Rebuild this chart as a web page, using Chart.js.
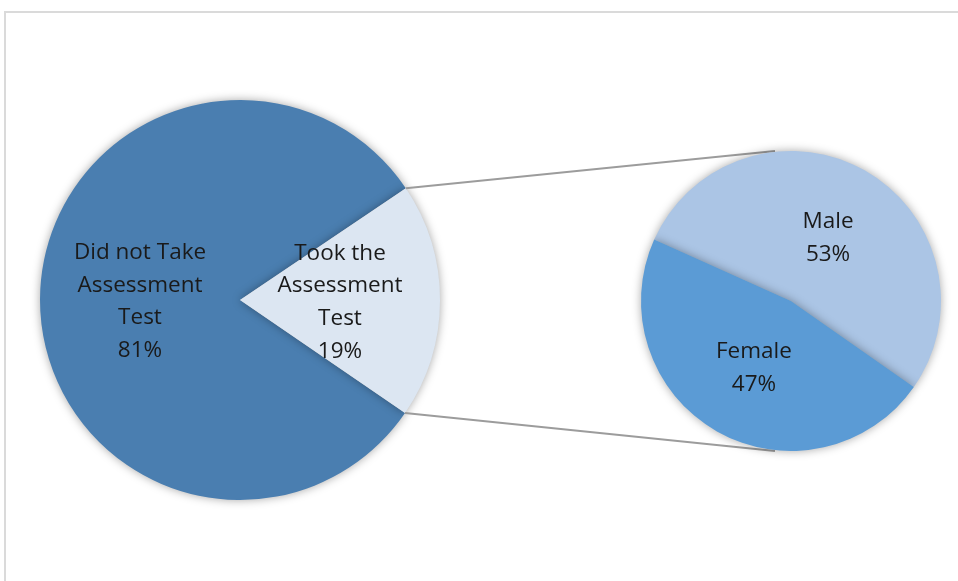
<!DOCTYPE html>
<html>
<head>
<meta charset="utf-8">
<script src="https://cdn.jsdelivr.net/npm/chart.js@4.4.1/dist/chart.umd.min.js"></script>
<style>
  html, body { margin: 0; padding: 0; background: #fff; }
  #wrap { position: relative; width: 958px; height: 581px; overflow: hidden; }
  #frame { position: absolute; left: 4px; top: 11px; width: 980px; height: 600px;
           border: 2px solid #dadada; box-sizing: border-box; }
  canvas { position: absolute; left: 0; top: 0; }
</style>
</head>
<body>
<div id="wrap">
  <div id="frame"></div>
  <canvas id="mainPie" width="958" height="581"></canvas>
  <canvas id="subPie" width="958" height="581"></canvas>
</div>
<script>
// data
const mainLabels = [['Did not Take', 'Assessment', 'Test'], ['Took the', 'Assessment', 'Test']];
const mainValues = [81, 19];
const subLabels = ['Male', 'Female'];
const subValues = [53, 47];

const labelFont = '22.5px "Open Sans", sans-serif';

// shadow behind the pies
const shadowPlugin = {
    id: 'shadow',
    beforeDatasetsDraw(chart) {
        chart.ctx.save();
        chart.ctx.shadowColor = 'rgba(0,0,0,0.35)';
        chart.ctx.shadowBlur = 10;
        chart.ctx.shadowOffsetX = 0;
        chart.ctx.shadowOffsetY = 0;
    },
    afterDatasetsDraw(chart) {
        chart.ctx.restore();
    }
};

// text labels in the middle of each slice
const sliceLabelPlugin = {
    id: 'sliceLabels',
    afterDatasetsDraw(chart) {
        const ctx = chart.ctx;
        const meta = chart.getDatasetMeta(0);
        const labels = chart.data.labels;
        const values = chart.data.datasets[0].data;
        ctx.save();
        ctx.font = labelFont;
        ctx.fillStyle = '#1a1a1a';
        ctx.textAlign = 'center';
        ctx.textBaseline = 'middle';
        meta.data.forEach((arc, i) => {
            const p = arc.getCenterPoint();
            const lines = [].concat(labels[i], values[i] + '%');
            const lh = 32.7;
            const y0 = p.y + 2 - (lines.length - 1) * lh / 2;
            lines.forEach((t, k) => ctx.fillText(t, p.x, y0 + k * lh));
        });
        ctx.restore();
    }
};

//main pie
const mainChart = new Chart(document.getElementById('mainPie'), {
    type: 'pie',
    data: {
        labels: mainLabels,
        datasets: [{
            data: mainValues,
            backgroundColor: ['#4a7eb0', '#dce6f2'],
            borderWidth: 0
        }]
    },
    options: {
        responsive: false,
        animation: false,
        rotation: 124.4,
        layout: { padding: { left: 40, right: 518, top: 100, bottom: 81 } },
        plugins: { legend: { display: false }, tooltip: { enabled: false } }
    },
    plugins: [shadowPlugin, sliceLabelPlugin]
});

// lines from the small slice to the second pie
const connectorPlugin = {
    id: 'connector',
    beforeDatasetsDraw(chart) {
        const arc = mainChart.getDatasetMeta(0).data[1];
        const sub = chart.getDatasetMeta(0).data[0];
        const r = arc.outerRadius;
        const a1 = arc.startAngle, a2 = arc.endAngle;
        const ctx = chart.ctx;
        const tx = sub.x - 16;
        ctx.save();
        ctx.strokeStyle = '#9c9c9c';
        ctx.lineWidth = 2;
        ctx.beginPath();
        ctx.moveTo(arc.x + r * Math.cos(a1), arc.y + r * Math.sin(a1));
        ctx.lineTo(tx, sub.y - sub.outerRadius);
        ctx.moveTo(arc.x + r * Math.cos(a2), arc.y + r * Math.sin(a2));
        ctx.lineTo(tx, sub.y + sub.outerRadius);
        ctx.stroke();
        ctx.restore();
    }
};

//second pie
const subChart = new Chart(document.getElementById('subPie'), {
    type: 'pie',
    data: {
        labels: subLabels,
        datasets: [{
            data: subValues,
            backgroundColor: ['#abc5e5', '#5b9bd5'],
            borderWidth: 0
        }]
    },
    options: {
        responsive: false,
        animation: false,
        rotation: 294.2,
        layout: { padding: { left: 641, right: 17, top: 151, bottom: 130 } },
        plugins: { legend: { display: false }, tooltip: { enabled: false } }
    },
    plugins: [connectorPlugin, shadowPlugin, sliceLabelPlugin]
});
</script>
</body>
</html>
